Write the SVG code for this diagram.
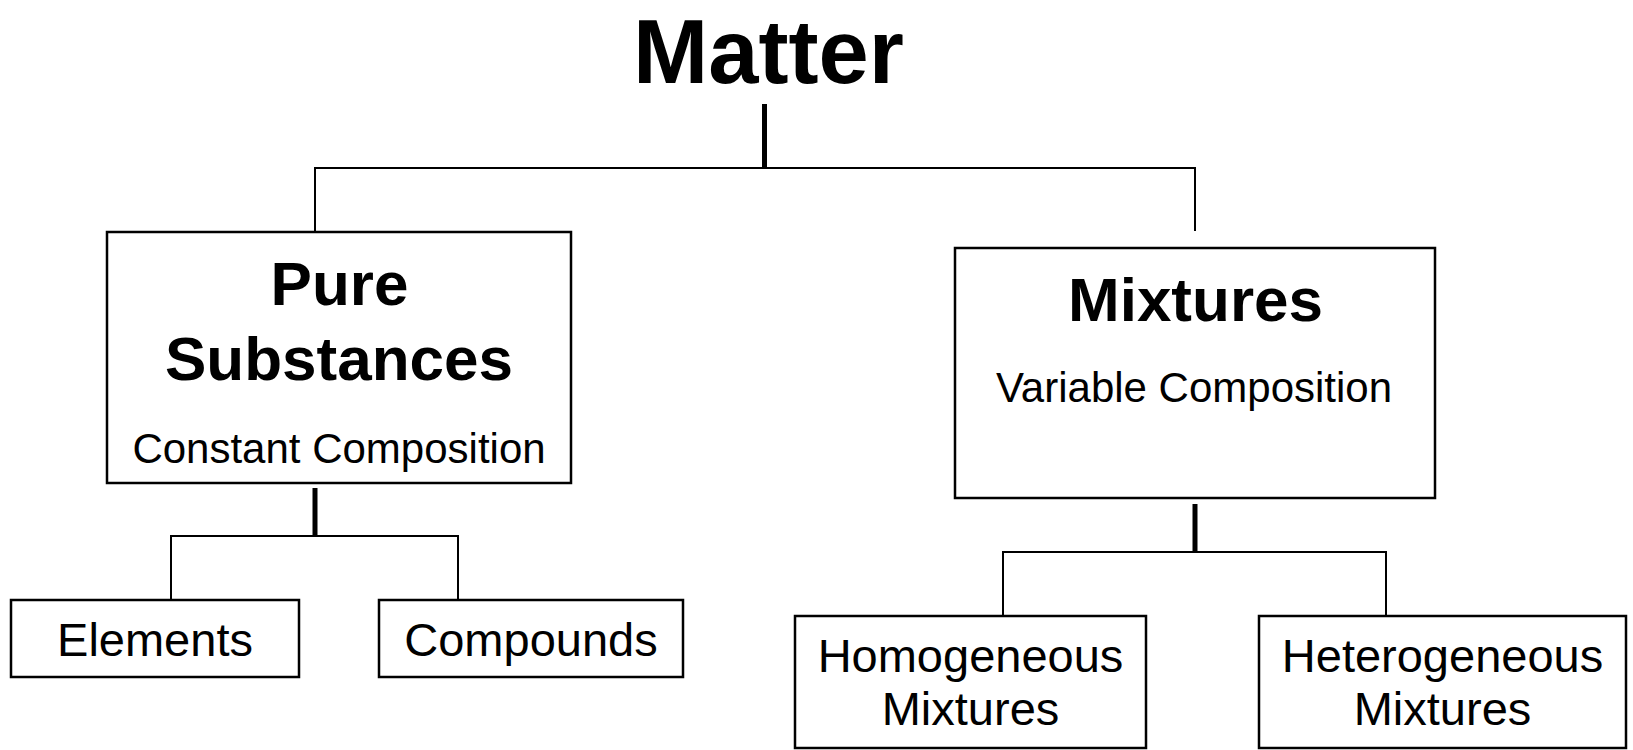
<svg xmlns="http://www.w3.org/2000/svg" width="1633" height="750" viewBox="0 0 1633 750">
<style>
.box{fill:#fff;stroke:#000;stroke-width:2.5}
.thin{fill:none;stroke:#000;stroke-width:2}
.thick{fill:none;stroke:#000;stroke-width:5}
text{font-family:"Liberation Sans",Arial,sans-serif;fill:#000;text-anchor:middle}
.title{font-weight:bold;font-size:91px}
.head{font-weight:bold;font-size:62px}
.sub{font-size:42px}
.leaf{font-size:47px}
</style>
<rect width="1633" height="750" fill="#fff"/>
<g id="connectors">
<line class="thick" x1="764.5" y1="104" x2="764.5" y2="168"/>
<polyline class="thin" points="315,231 315,168 1195,168 1195,231"/>
<line class="thick" x1="315" y1="488" x2="315" y2="536"/>
<polyline class="thin" points="171,599 171,536 458,536 458,599"/>
<line class="thick" x1="1195" y1="504" x2="1195" y2="552"/>
<polyline class="thin" points="1003,616 1003,552 1386,552 1386,616"/>
</g>
<g id="matter">
<text class="title" x="768.5" y="83" textLength="271" lengthAdjust="spacingAndGlyphs">Matter</text>
</g>
<g id="pure-substances">
<rect class="box" x="107" y="232" width="464" height="251"/>
<text class="head" x="339.5" y="305">Pure</text>
<text class="head" x="339" y="380">Substances</text>
<text class="sub" x="339" y="463">Constant Composition</text>
</g>
<g id="mixtures">
<rect class="box" x="955" y="248" width="480" height="250"/>
<text class="head" x="1195.5" y="321">Mixtures</text>
<text class="sub" x="1194" y="402">Variable Composition</text>
</g>
<g id="elements">
<rect class="box" x="11" y="600" width="288" height="77"/>
<text class="leaf" x="155" y="656">Elements</text>
</g>
<g id="compounds">
<rect class="box" x="379" y="600" width="304" height="77"/>
<text class="leaf" x="531" y="656">Compounds</text>
</g>
<g id="homogeneous">
<rect class="box" x="795" y="616" width="351" height="132"/>
<text class="leaf" x="970.5" y="672">Homogeneous</text>
<text class="leaf" x="970.5" y="725">Mixtures</text>
</g>
<g id="heterogeneous">
<rect class="box" x="1259" y="616" width="367" height="132"/>
<text class="leaf" x="1442.5" y="672">Heterogeneous</text>
<text class="leaf" x="1442.5" y="725">Mixtures</text>
</g>
</svg>
